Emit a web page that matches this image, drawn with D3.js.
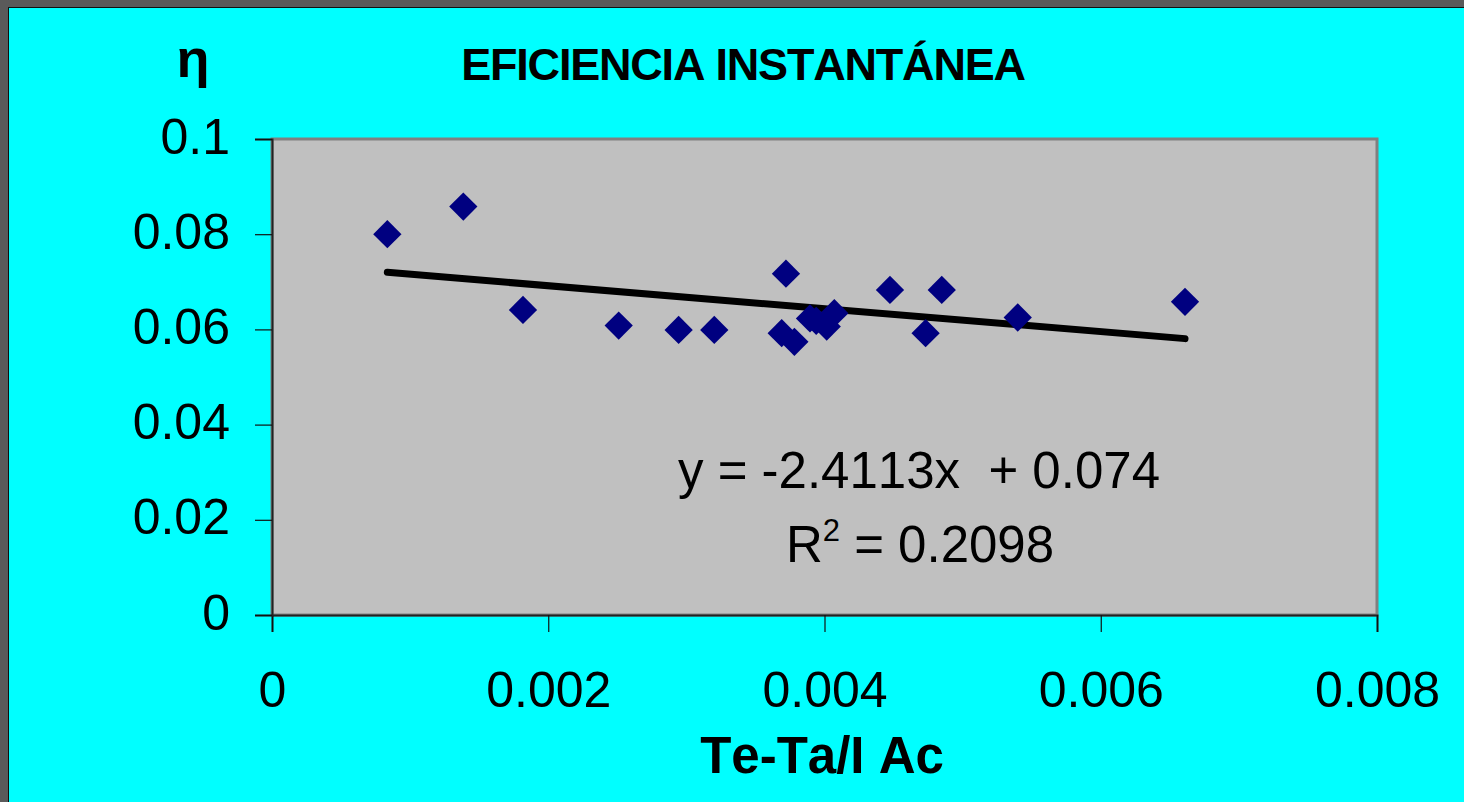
<!DOCTYPE html>
<html>
<head>
<meta charset="utf-8">
<script src="https://cdn.jsdelivr.net/npm/d3@7"></script>
<style>
  html, body { margin: 0; padding: 0; background: #00ffff; overflow: hidden; }
  svg { display: block; font-family: "Liberation Sans", Arial, sans-serif; font-kerning: none; }
</style>
</head>
<body>
<svg id="chart" width="1464" height="802"></svg>
<script>
// Efficiency readings (Te-Ta/I Ac vs eta)
const xValues = [0.000835, 0.001385, 0.001817, 0.00251, 0.002944, 0.003202,
                 0.003721, 0.00369, 0.003782, 0.003895, 0.00394, 0.004016,
                 0.004071, 0.004474, 0.004849, 0.004732, 0.005399, 0.00661];
const yValues = [0.0800, 0.0858, 0.0641, 0.0608, 0.0599, 0.0599,
                 0.0717, 0.0592, 0.0574, 0.0623, 0.0618, 0.0606,
                 0.0634, 0.0683, 0.0683, 0.0592, 0.0625, 0.0658];

const xTicks = [0, 0.002, 0.004, 0.006, 0.008];
const yTicks = [0, 0.02, 0.04, 0.06, 0.08, 0.1];

// trendline shown on the chart
const slope = -2.4113;
const intercept = 0.074;
const rSquared = "0.2098";

const svg = d3.select("#chart");
const W = 1464, H = 802;
const plot = { left: 272, right: 1377, top: 139, bottom: 615 };

const x = d3.scaleLinear().domain([0, 0.008]).range([plot.left, plot.right]);
const y = d3.scaleLinear().domain([0, 0.1]).range([plot.bottom, plot.top]);

// outer frame (dark band top and left)
svg.append("rect").attr("x", 0).attr("y", 0).attr("width", W).attr("height", 7).attr("fill", "#5a5a5a");
svg.append("rect").attr("x", 0).attr("y", 0).attr("width", 8).attr("height", H).attr("fill", "#5a5a5a");
svg.append("line").attr("x1", 8).attr("y1", 7.5).attr("x2", W).attr("y2", 7.5).attr("stroke", "#111").attr("stroke-width", 1);
svg.append("line").attr("x1", 8.5).attr("y1", 7).attr("x2", 8.5).attr("y2", H).attr("stroke", "#111").attr("stroke-width", 1);

// plot area
svg.append("rect")
    .attr("x", plot.left).attr("y", plot.top)
    .attr("width", plot.right - plot.left).attr("height", plot.bottom - plot.top)
    .attr("fill", "#c0c0c0")
    .attr("stroke", "#808080")
    .attr("stroke-width", 3);

// axes
const xAxis = d3.axisBottom(x).tickValues(xTicks).tickSize(17).tickFormat(d => d === 0 ? "0" : d3.format(".3f")(d));
const yAxis = d3.axisLeft(y).tickValues(yTicks).tickSize(17).tickFormat(d => d === 0 ? "0" : (d === 0.1 ? "0.1" : d3.format(".2f")(d)));

const gx = svg.append("g").attr("transform", `translate(0,${plot.bottom})`).call(xAxis);
gx.select(".domain").attr("stroke", "#222").attr("stroke-width", 2);
gx.selectAll(".tick line").attr("stroke", "#111").attr("stroke-width", 1.2);
gx.selectAll(".tick text")
    .attr("font-size", 50).attr("fill", "#000")
    .attr("font-family", "'Liberation Sans', Arial, sans-serif")
    .attr("dy", null).attr("y", 92);

const gy = svg.append("g").attr("transform", `translate(${plot.left},0)`).call(yAxis);
gy.select(".domain").attr("stroke", "#222").attr("stroke-width", 2);
gy.selectAll(".tick line").attr("stroke", "#111").attr("stroke-width", 1.2);
gy.selectAll(".tick text")
    .attr("font-size", 50).attr("fill", "#000")
    .attr("font-family", "'Liberation Sans', Arial, sans-serif")
    .attr("dy", null).attr("x", -42).attr("y", 14);

// trendline over the data range
const xMin = d3.min(xValues), xMax = d3.max(xValues);
svg.append("line")
    .attr("x1", x(xMin)).attr("y1", y(slope * xMin + intercept))
    .attr("x2", x(xMax)).attr("y2", y(slope * xMax + intercept))
    .attr("stroke", "#000")
    .attr("stroke-width", 7)
    .attr("stroke-linecap", "round");

// points as diamonds
const diamond = d3.symbol().type(d3.symbolSquare).size(400);
svg.append("g")
    .selectAll("path")
    .data(xValues.map((v, i) => [v, yValues[i]]))
    .join("path")
    .attr("d", diamond)
    .attr("transform", d => `translate(${x(d[0])},${y(d[1])}) rotate(45)`)
    .attr("fill", "#000080");

// equation labels
svg.append("text")
    .attr("x", 919).attr("y", 488)
    .attr("text-anchor", "middle")
    .attr("font-size", 51)
    .style("white-space", "pre")
    .text(`y = ${slope}x  + ${intercept}`);

const r2 = svg.append("text")
    .attr("x", 920).attr("y", 562)
    .attr("text-anchor", "middle")
    .attr("font-size", 51);
r2.append("tspan").text("R");
r2.append("tspan").attr("font-size", 31).attr("dy", -21).text("2");
r2.append("tspan").attr("dy", 21).text(" = " + rSquared);

// titles
svg.append("text")
    .attr("x", 743).attr("y", 80)
    .attr("text-anchor", "middle")
    .attr("font-size", 45)
    .attr("font-weight", "bold")
    .attr("letter-spacing", -1.2)
    .text("EFICIENCIA INSTANTÁNEA");

svg.append("text")
    .attr("x", 193).attr("y", 77)
    .attr("text-anchor", "middle")
    .attr("font-size", 54)
    .attr("font-weight", "bold")
    .text("η");

svg.append("text")
    .attr("x", 822).attr("y", 773)
    .attr("text-anchor", "middle")
    .attr("font-size", 51)
    .attr("font-weight", "bold")
    .text("Te-Ta/I Ac");
</script>
</body>
</html>
